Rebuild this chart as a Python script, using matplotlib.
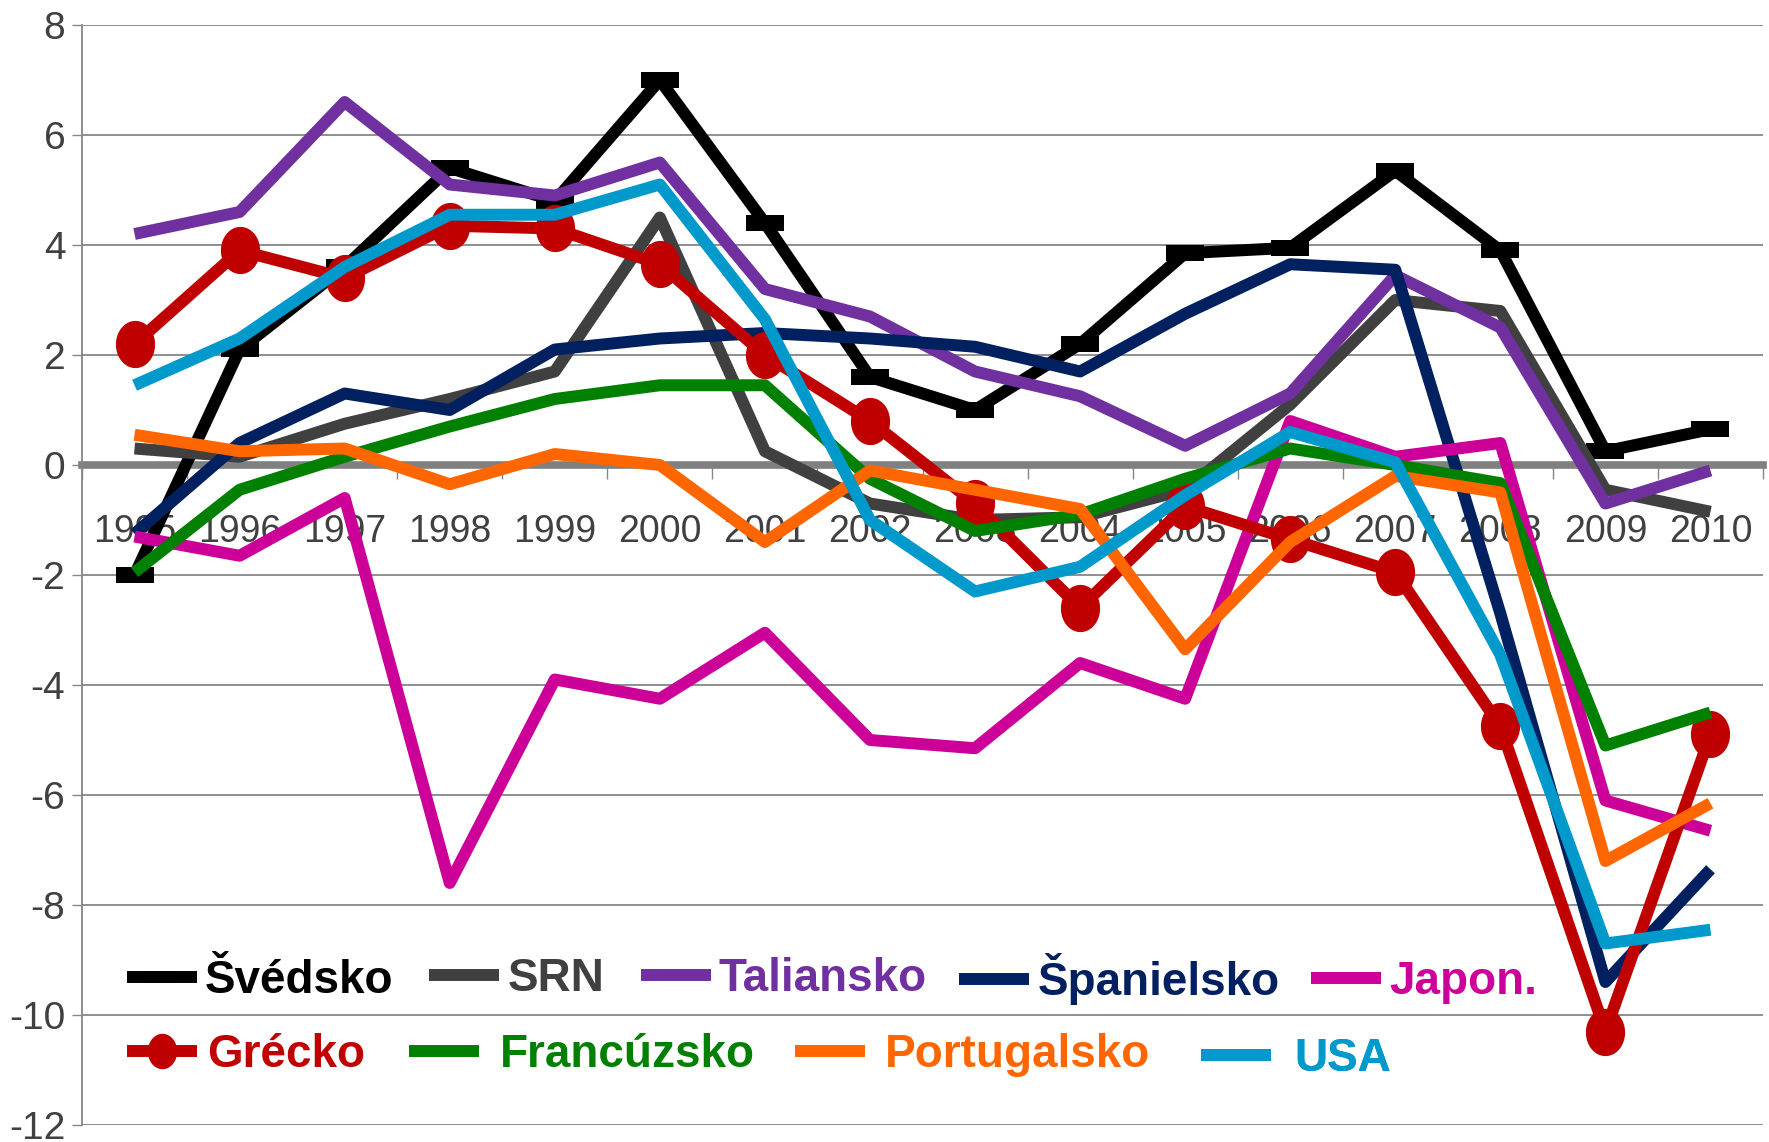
import matplotlib
matplotlib.use('Agg')
import matplotlib.pyplot as plt
import matplotlib.transforms as mtransforms
import numpy as np
from matplotlib.path import Path

years = [str(y) for y in range(1995, 2011)]
svedsko = [-2.0, 2.1, 3.6, 5.4, 4.8, 7.0, 4.4, 1.6, 1.0, 2.2, 3.85, 3.95, 5.35, 3.9, 0.25, 0.65]
srn = [0.3, 0.15, 0.75, 1.2, 1.7, 4.5, 0.25, -0.7, -1.0, -0.95, -0.45, 1.1, 3.0, 2.8, -0.45, -0.85]
taliansko = [4.2, 4.6, 6.6, 5.1, 4.9, 5.5, 3.2, 2.7, 1.7, 1.25, 0.35, 1.3, 3.45, 2.5, -0.7, -0.1]
spanielsko = [-1.25, 0.4, 1.3, 1.0, 2.1, 2.3, 2.4, 2.3, 2.15, 1.7, 2.75, 3.65, 3.55, -2.7, -9.4, -7.35]
japon = [-1.3, -1.65, -0.6, -7.6, -3.9, -4.25, -3.05, -5.0, -5.15, -3.6, -4.25, 0.8, 0.15, 0.4, -6.1, -6.65]
grecko = [2.2, 3.9, 3.4, 4.35, 4.3, 3.65, 2.0, 0.8, -0.7, -2.6, -0.75, -1.35, -1.95, -4.75, -10.3, -4.9]
francuzsko = [-1.95, -0.45, 0.15, 0.7, 1.2, 1.45, 1.45, -0.25, -1.2, -0.9, -0.25, 0.3, 0.0, -0.33, -5.1, -4.5]
portugalsko = [0.55, 0.25, 0.3, -0.35, 0.2, 0.0, -1.4, -0.1, -0.45, -0.8, -3.35, -1.4, -0.2, -0.5, -7.2, -6.15]
usa = [1.45, 2.3, 3.6, 4.55, 4.55, 5.1, 2.65, -1.0, -2.3, -1.85, -0.55, 0.6, 0.05, -3.45, -8.7, -8.45]

labels = ['Švédsko', 'SRN', 'Taliansko', 'Španielsko', 'Japon.',
          'Grécko', 'Francúzsko', 'Portugalsko', 'USA']
series = [svedsko, srn, taliansko, spanielsko, japon,
          grecko, francuzsko, portugalsko, usa]
colors = ['#000000', '#404040', '#7030A0', '#002060', '#CC0099',
          '#C00000', '#008000', '#FF6600', '#0099CC']

plt.rcParams['font.family'] = ['Liberation Sans', 'DejaVu Sans']

W, H = 1769, 1142
fig = plt.figure(figsize=(W / 100, H / 100), dpi=100)
ax = fig.add_axes([82 / W, 17 / H, (1763 - 82) / W, 1100 / H])

# custom markers
dash_marker = Path([(-1, -0.42), (1, -0.42), (1, 0.42), (-1, 0.42), (-1, -0.42)],
                   [Path.MOVETO, Path.LINETO, Path.LINETO, Path.LINETO, Path.CLOSEPOLY])
t = np.linspace(0, 2 * np.pi, 60)
ell_marker = Path(np.column_stack([0.83 * np.cos(t), np.sin(t)]))

x = np.arange(len(years))
lines = []
for i, (lab, vals, c) in enumerate(zip(labels, series, colors)):
    kw = dict(color=c, lw=8.6, solid_joinstyle='round', solid_capstyle='butt', zorder=3 + i * 0.01)
    if lab == 'Švédsko':
        kw.update(marker=dash_marker, markersize=27.5, markeredgewidth=0, markerfacecolor=c)
    elif lab == 'Grécko':
        kw.update(marker=ell_marker, markersize=34, markeredgewidth=0, markerfacecolor=c)
    ln, = ax.plot(x, vals, label=lab, **kw)
    lines.append(ln)

ax.set_xlim(-0.5, len(years) - 0.5)
ax.set_ylim(-12, 8)
ax.set_yticks(np.arange(-12, 9, 2))
ax.set_yticklabels([str(v) for v in range(-12, 9, 2)])

# x axis: ticks at category boundaries, labels at centers
ax.set_xticks(np.arange(-0.5, len(years), 1.0))
ax.set_xticklabels([])
ax.set_xticks(x, minor=True)
ax.set_xticklabels(years, minor=True)
ax.tick_params(axis='x', which='major', direction='out', length=10, width=1, color='#868686')
ax.tick_params(axis='x', which='minor', length=0, pad=35, labelsize=27, labelcolor='#404040')
ax.tick_params(axis='y', direction='out', length=7, width=1, color='#868686',
               pad=5, labelsize=28, labelcolor='#404040')

offset = mtransforms.ScaledTranslation(9 / 100, 0, fig.dpi_scale_trans)
for lbl in ax.xaxis.get_minorticklabels():
    lbl.set_transform(lbl.get_transform() + offset)

ax.yaxis.grid(True, color='#868686', lw=1.3)
ax.set_axisbelow('line')

for s in ['top', 'right']:
    ax.spines[s].set_visible(False)
ax.spines['left'].set_color('#868686')
ax.spines['left'].set_linewidth(1.3)
ax.spines['bottom'].set_position(('data', 0))
ax.spines['bottom'].set_color('#808080')
ax.spines['bottom'].set_linewidth(5.5)
ax.spines['bottom'].set_zorder(1.8)

# legend: one entry per legend, positioned like the reference
fs = 33
fpx = fs * 100 / 72
hlen_px = 70
# (handle start x, center y, text start x) in pixels
pos = {
    'Švédsko': (127, 981, 205),
    'SRN': (429, 979, 508),
    'Taliansko': (641, 979, 718),
    'Španielsko': (959, 979, 1038),
    'Japon.': (1311, 982, 1389),
    'Grécko': (127, 1055, 207),
    'Francúzsko': (409, 1055, 500),
    'Portugalsko': (795, 1055, 885),
    'USA': (1201, 1059, 1294),
}
for ln, lab, c in zip(lines, labels, colors):
    hx, hy, tx = pos[lab]
    pad = max(tx - (hx + hlen_px), 1) / fpx
    leg = ax.legend([ln], [lab], loc='center left',
                    bbox_to_anchor=(hx / W, 1 - hy / H), bbox_transform=fig.transFigure,
                    frameon=False, borderpad=0, borderaxespad=0,
                    handlelength=hlen_px / fpx, handletextpad=pad,
                    markerscale=0.75, numpoints=1,
                    prop={'family': ['Liberation Sans', 'DejaVu Sans'], 'weight': 'bold', 'size': fs})
    for txt in leg.get_texts():
        txt.set_color(c)
    ax.add_artist(leg)

fig.savefig('out.png', dpi=100)
